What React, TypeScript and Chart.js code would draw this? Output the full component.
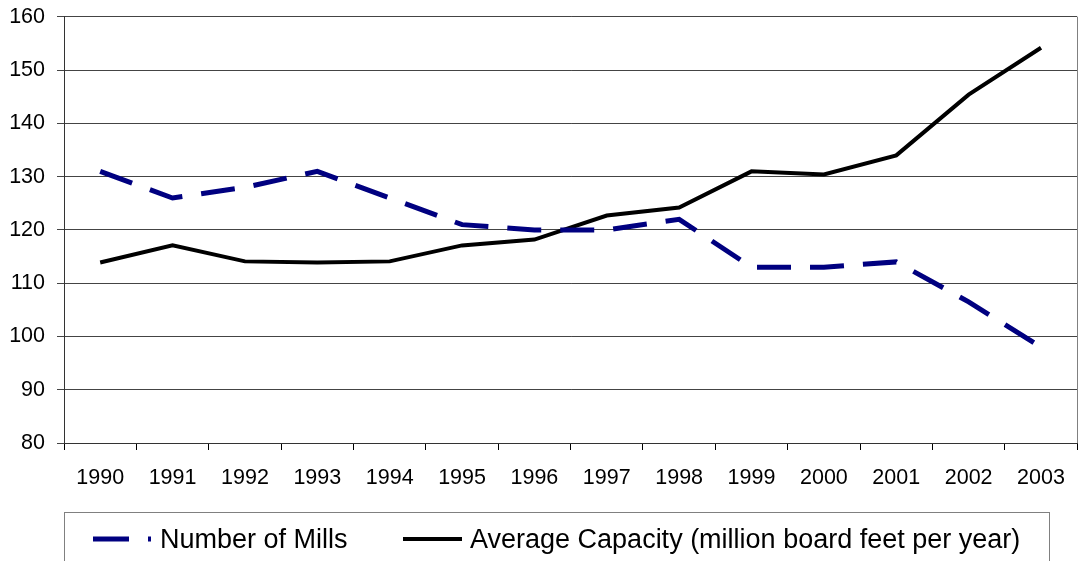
import React, { useEffect, useRef } from "react";
import { Chart, registerables } from "chart.js";

Chart.register(...registerables);

const years = ["1990", "1991", "1992", "1993", "1994", "1995", "1996", "1997", "1998", "1999", "2000", "2001", "2002", "2003"];
const numberOfMills = [131, 126, 128, 131, 126, 121, 120, 120, 122, 113, 113, 114, 106.5, 98];
const averageCapacity = [113.9, 117.1, 114.1, 113.9, 114.1, 117.1, 118.2, 122.7, 124.2, 131, 130.4, 134, 145.4, 154.2];
const millsLabel = "Number of Mills";
const capacityLabel = "Average Capacity (million board feet per year)";

const FONT = "'Liberation Sans', Arial, sans-serif";
const SHIFT = 8; // canvas is shifted up by this amount

const framePlugin = {
  id: "frameAndLegend",
  afterDraw(chart: any) {
    const { ctx, chartArea } = chart;
    ctx.save();
    // right border of plot area
    ctx.strokeStyle = "#808080";
    ctx.lineWidth = 1;
    ctx.beginPath();
    ctx.moveTo(Math.round(chartArea.right) + 0.5, chartArea.top);
    ctx.lineTo(Math.round(chartArea.right) + 0.5, chartArea.bottom);
    ctx.stroke();

    // legend box
    ctx.strokeStyle = "#808080";
    ctx.lineWidth = 1;
    ctx.strokeRect(64.5, 512.5 + SHIFT, 985, 60);

    const y = 539 + SHIFT;
    // dashed sample
    ctx.strokeStyle = "#000080";
    ctx.lineWidth = 5;
    ctx.setLineDash([36, 19]);
    ctx.lineCap = "butt";
    ctx.beginPath();
    ctx.moveTo(93, y);
    ctx.lineTo(151, y);
    ctx.stroke();
    ctx.setLineDash([]);

    // solid sample
    ctx.strokeStyle = "#000000";
    ctx.lineWidth = 4;
    ctx.beginPath();
    ctx.moveTo(403, y);
    ctx.lineTo(462, y);
    ctx.stroke();

    ctx.fillStyle = "#000";
    ctx.font = `27px ${FONT}`;
    ctx.textBaseline = "alphabetic";
    ctx.textAlign = "left";
    ctx.fillText(millsLabel, 160, 548 + SHIFT);
    ctx.fillText(capacityLabel, 470, 548 + SHIFT);
    ctx.restore();
  },
};

export default function App() {
  const ref = useRef<HTMLCanvasElement | null>(null);

  useEffect(() => {
    if (!ref.current) return;
    const chart = new Chart(ref.current, {
      type: "line",
      data: {
        labels: years,
        datasets: [
          {
            label: millsLabel,
            data: numberOfMills,
            borderColor: "#000080",
            backgroundColor: "#000080",
            borderWidth: 5,
            borderDash: [34, 19],
            pointRadius: 0,
            tension: 0,
            fill: false,
          },
          {
            label: capacityLabel,
            data: averageCapacity,
            borderColor: "#000000",
            backgroundColor: "#000000",
            borderWidth: 4,
            pointRadius: 0,
            tension: 0,
            fill: false,
          },
        ],
      },
      options: {
        animation: false,
        responsive: false,
        maintainAspectRatio: false,
        layout: { padding: { top: 8, right: 2, bottom: 58, left: 0 } },
        plugins: {
          legend: { display: false },
          tooltip: { enabled: false },
        },
        scales: {
          x: {
            offset: true,
            grid: {
              offset: true,
              drawOnChartArea: false,
              drawTicks: true,
              tickLength: 7,
              color: "#000",
            },
            border: { display: true, color: "#333", width: 1 },
            ticks: {
              color: "#000",
              font: { family: FONT, size: 21.5 },
              padding: 15,
              maxRotation: 0,
              autoSkip: false,
            },
            afterFit: (scale: any) => {
              scale.height = 60;
            },
          },
          y: {
            min: 80,
            max: 160,
            grid: {
              color: "#444",
              lineWidth: 1,
              tickLength: 7,
            },
            border: { display: true, color: "#333", width: 1 },
            ticks: {
              stepSize: 10,
              color: "#000",
              font: { family: FONT, size: 21.5 },
              padding: 12,
            },
            afterFit: (scale: any) => {
              scale.width = 64;
            },
          },
        },
      },
      plugins: [framePlugin],
    });
    return () => chart.destroy();
  }, []);

  return (
    <div style={{ position: "fixed", left: 0, top: 0, width: 1080, height: 561, background: "#fff", overflow: "hidden" }}>
      <canvas
        ref={ref}
        width={1080}
        height={561 + SHIFT}
        style={{ position: "absolute", left: 0, top: -SHIFT, width: 1080, height: 561 + SHIFT, display: "block" }}
      />
    </div>
  );
}
